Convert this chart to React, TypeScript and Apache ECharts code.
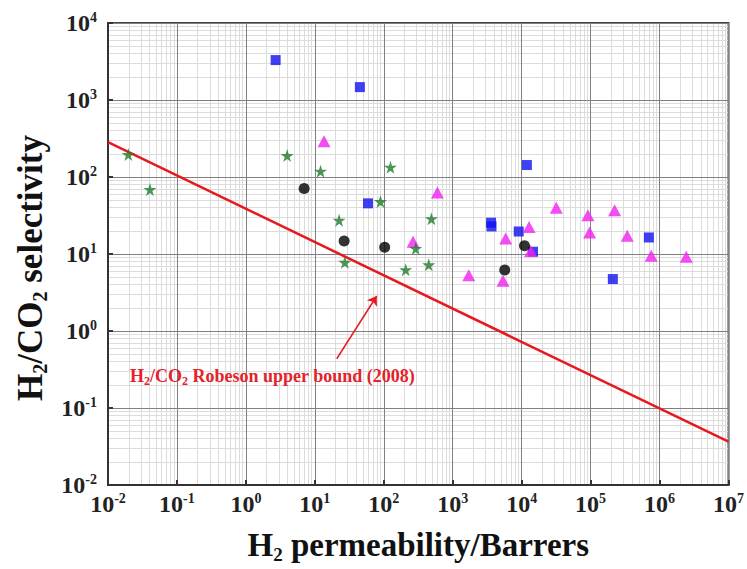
import React, { useEffect, useRef } from "react";
import * as echarts from "echarts";

const blueSquares: [number, number][] = [
  [2.7, 3300], [45, 1470], [59, 45.5], [3600, 25.5], [3650, 22.8], [9060, 19.6],
  [11900, 143], [14600, 10.7], [210000, 4.73], [700000, 16.4],
];
const magentaTriangles: [number, number][] = [
  [13.6, 292], [600, 63], [266, 14.4], [1710, 5.3], [5360, 4.5], [5860, 15.9],
  [12800, 22.5], [13500, 10.9], [31800, 40], [91400, 31.9], [96800, 19],
  [223000, 37], [340000, 17.2], [757000, 9.5], [2440000, 9.2],
];
const blackCircles: [number, number][] = [
  [7.0, 71], [26.6, 14.8], [103, 12.2], [5680, 6.2], [11000, 12.8],
];
const greenStars: [number, number][] = [
  [0.0197, 196], [0.0406, 69], [3.97, 190], [12.1, 119], [125, 134], [89.5, 47.9],
  [22.5, 27.5], [491, 28.8], [291, 11.8], [27.2, 7.8], [208, 6.25], [449, 7.25],
];
const robesonBound: [number, number][] = [[0.01, 283], [1e7, 0.0365]];
const arrowFrom: [number, number] = [20.8, 0.436];
const arrowTo: [number, number] = [79, 2.85];

const xDecades = [-2, -1, 0, 1, 2, 3, 4, 5, 6];
const yDecades = [-2, -1, 0, 1, 2, 3];
const minorSteps = [2, 3, 4, 5, 6, 7, 8, 9];

const starPath =
  "path://M50,0 L61,35 L98,35 L68,57 L79,91 L50,70 L21,91 L32,57 L2,35 L39,35 Z";

const FONT = "'Liberation Serif', 'Times New Roman', serif";

const tickRich = {
  b: { fontFamily: FONT, fontWeight: "bold", fontSize: 24, color: "#222", lineHeight: 26 },
  s: { fontFamily: FONT, fontWeight: "bold", fontSize: 14, color: "#222", verticalAlign: "top", lineHeight: 14 },
};
const xNameRich = {
  b: { fontFamily: FONT, fontWeight: "bold", fontSize: 33, color: "#111", lineHeight: 38 },
  s: { fontFamily: FONT, fontWeight: "bold", fontSize: 19, color: "#111", verticalAlign: "bottom", lineHeight: 16 },
};
const yNameRich = {
  b: { fontFamily: FONT, fontWeight: "bold", fontSize: 35, color: "#111", lineHeight: 40 },
  s: { fontFamily: FONT, fontWeight: "bold", fontSize: 20, color: "#111", verticalAlign: "bottom", lineHeight: 16 },
};
const tickFmt = (v: number) => `{b|10}{s|${Math.round(Math.log10(v))}}`;

export default function App() {
  const ref = useRef<HTMLDivElement>(null);
  useEffect(() => {
    if (!ref.current) return;
    const chart = echarts.init(ref.current, null, { renderer: "svg" });
    const minorX: any[] = [];
    xDecades.forEach((d) => minorSteps.forEach((m) => minorX.push({ xAxis: m * Math.pow(10, d) })));
    const minorY: any[] = [];
    yDecades.forEach((d) => minorSteps.forEach((m) => minorY.push({ yAxis: m * Math.pow(10, d) })));

    const axisCommon = {
      type: "log" as const,
      logBase: 10,
      z: 2,
      axisLine: { show: true, lineStyle: { color: "#333", width: 2 } },
      axisTick: { show: true, inside: true, length: 5, lineStyle: { color: "#333", width: 2 } },
      splitLine: { show: true, lineStyle: { color: "#808080", width: 1 } },
      minorTick: { show: false },
    };

    chart.setOption({
      animation: false,
      backgroundColor: "#ffffff",
      grid: {
        left: 108, right: 18, top: 23, bottom: 82,
        show: true, borderColor: "#444", borderWidth: 2, backgroundColor: "transparent",
      },
      xAxis: {
        ...axisCommon,
        min: 0.01, max: 1e7, splitNumber: 9,
        axisLabel: { formatter: tickFmt, rich: tickRich, margin: 6 },
        name: "{b|H}{s|2}{b| permeability/Barrers}",
        nameLocation: "middle", nameGap: 41,
        nameTextStyle: { rich: xNameRich },
      },
      yAxis: {
        ...axisCommon,
        min: 0.01, max: 1e4, splitNumber: 6,
        axisLabel: { formatter: tickFmt, rich: tickRich, margin: 11 },
        name: "{b|H}{s|2}{b|/CO}{s|2}{b| selectivity}",
        nameLocation: "middle", nameGap: 58, nameRotate: 90,
        nameTextStyle: { rich: yNameRich, padding: [0, 28, 0, 0] },
      },
      graphic: [
        {
          type: "text", left: 130, top: 367, z: 10,
          style: {
            text: "{r|H}{rs|2}{r|/CO}{rs|2}{r| Robeson upper bound (2008)}",
            rich: {
              r: { fontFamily: FONT, fontWeight: "bold", fontSize: 18, fill: "#e3222b", lineHeight: 22 },
              rs: { fontFamily: FONT, fontWeight: "bold", fontSize: 12, fill: "#e3222b", verticalAlign: "bottom", lineHeight: 12 },
            },
          },
        },
      ],
      series: [
        {
          type: "line", data: [], z: 1, silent: true,
          markLine: {
            z: 1, silent: true, symbol: "none", label: { show: false },
            lineStyle: { color: "#dcdcdc", width: 1, type: "solid" },
            data: [...minorX, ...minorY],
          },
        },
        {
          type: "line", data: robesonBound, z: 4, symbol: "none",
          lineStyle: { color: "#e8191e", width: 2.5 },
          markLine: {
            z: 4, silent: true, symbol: ["none", "arrow"], symbolSize: 9,
            label: { show: false },
            lineStyle: { color: "#e8191e", width: 1.5, type: "solid" },
            data: [[{ coord: arrowFrom }, { coord: arrowTo }]],
          },
        },
        {
          type: "scatter", data: blueSquares, symbol: "rect", symbolSize: 10, z: 6,
          itemStyle: { color: "#1010f0" },
        },
        {
          type: "scatter", data: magentaTriangles, symbol: "triangle", symbolSize: [13, 12], z: 6,
          itemStyle: { color: "#f020f0" },
        },
        {
          type: "scatter", data: blackCircles, symbol: "circle", symbolSize: 11, z: 6,
          itemStyle: { color: "#000000" },
        },
        {
          type: "scatter", data: greenStars, symbol: starPath, symbolSize: 13, z: 6,
          itemStyle: { color: "#1f7a2a" },
        },
      ],
    });
    return () => chart.dispose();
  }, []);
  return (
    <div
      ref={ref}
      style={{ position: "absolute", left: 0, top: 0, width: 747, height: 569 }}
    />
  );
}
